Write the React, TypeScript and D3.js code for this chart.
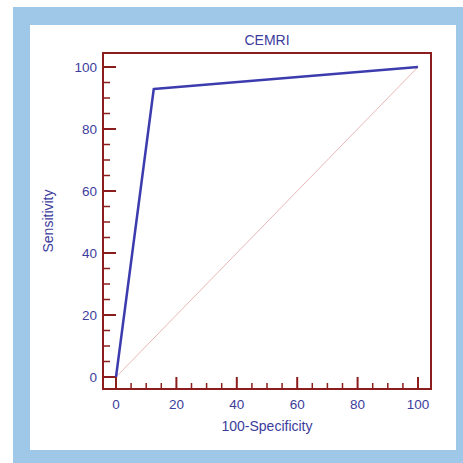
import React, { useEffect, useRef } from 'react';
import * as d3 from 'd3';

// ROC curve points (100-Specificity, Sensitivity)
const fpr = [0, 12.5, 100];
const tpr = [0, 92.9, 100];
const diagonal = [0, 100];
const xTicks = [0, 20, 40, 60, 80, 100];
const yTicks = [0, 20, 40, 60, 80, 100];
const minorTicks = d3.range(0, 101, 5);

const App = () => {
  const ref = useRef<SVGSVGElement | null>(null);

  useEffect(() => {
    const width = 463;
    const height = 463;
    const frame = { left: 103, right: 431, top: 53, bottom: 389 };
    const frameColor = '#8c1d1d';
    const textColor = '#3d3d9c';
    const font = '"Liberation Sans", Arial, sans-serif';

    const svg = d3.select(ref.current);
    svg.selectAll('*').remove();
    svg.attr('width', width).attr('height', height);

    // background panels
    svg.append('rect').attr('x', 0).attr('y', 0).attr('width', width).attr('height', height).attr('fill', '#fff');
    svg.append('rect').attr('x', 13).attr('y', 7).attr('width', width - 13).attr('height', height - 7).attr('fill', '#9fc7e8');
    svg.append('rect').attr('x', 30).attr('y', 25).attr('width', 426).attr('height', 425).attr('fill', '#fff');

    const xScale = d3.scaleLinear().domain([0, 100]).range([116, 418]);
    const yScale = d3.scaleLinear().domain([0, 100]).range([377, 67]);

    // diagonal reference line
    svg.append('line')
      .attr('x1', xScale(diagonal[0])).attr('y1', yScale(diagonal[0]))
      .attr('x2', xScale(diagonal[1])).attr('y2', yScale(diagonal[1]))
      .attr('stroke', '#e9b8b8')
      .attr('stroke-width', 1);

    // ticks along the left side (pointing in)
    svg.selectAll('.ytick')
      .data(minorTicks)
      .enter().append('line')
      .attr('x1', frame.left)
      .attr('x2', d => frame.left + (d % 20 === 0 ? 13 : 7))
      .attr('y1', d => yScale(d))
      .attr('y2', d => yScale(d))
      .attr('stroke', frameColor)
      .attr('stroke-width', d => (d % 20 === 0 ? 2 : 1.5));

    // ticks along the bottom (pointing in)
    svg.selectAll('.xtick')
      .data(minorTicks)
      .enter().append('line')
      .attr('x1', d => xScale(d))
      .attr('x2', d => xScale(d))
      .attr('y1', frame.bottom)
      .attr('y2', d => frame.bottom - (d % 20 === 0 ? 12 : 6))
      .attr('stroke', frameColor)
      .attr('stroke-width', d => (d % 20 === 0 ? 2 : 1.5));

    // frame
    svg.append('rect')
      .attr('x', frame.left)
      .attr('y', frame.top)
      .attr('width', frame.right - frame.left)
      .attr('height', frame.bottom - frame.top)
      .attr('fill', 'none')
      .attr('stroke', frameColor)
      .attr('stroke-width', 2);

    // ROC line
    const line = d3.line<number>()
      .x((d, i) => xScale(fpr[i]))
      .y(d => yScale(d));

    svg.append('path')
      .datum(tpr)
      .attr('d', line)
      .attr('fill', 'none')
      .attr('stroke', '#3c3cae')
      .attr('stroke-width', 2.5)
      .attr('stroke-linejoin', 'round');

    // tick labels
    svg.selectAll('.xlabel')
      .data(xTicks)
      .enter().append('text')
      .attr('x', d => xScale(d))
      .attr('y', 409)
      .attr('text-anchor', 'middle')
      .style('font-family', font)
      .style('font-size', '13.5px')
      .style('fill', textColor)
      .text(d => d);

    svg.selectAll('.ylabel')
      .data(yTicks)
      .enter().append('text')
      .attr('x', 97)
      .attr('y', d => yScale(d) + 5)
      .attr('text-anchor', 'end')
      .style('font-family', font)
      .style('font-size', '13.5px')
      .style('fill', textColor)
      .text(d => d);

    // titles
    svg.append('text')
      .attr('x', (frame.left + frame.right) / 2)
      .attr('y', 45)
      .attr('text-anchor', 'middle')
      .style('font-family', font)
      .style('font-size', '14px')
      .style('fill', textColor)
      .text('CEMRI');

    svg.append('text')
      .attr('x', (frame.left + frame.right) / 2)
      .attr('y', 431)
      .attr('text-anchor', 'middle')
      .style('font-family', font)
      .style('font-size', '14px')
      .style('fill', textColor)
      .text('100-Specificity');

    svg.append('text')
      .attr('transform', `translate(53, ${(frame.top + frame.bottom) / 2}) rotate(-90)`)
      .attr('text-anchor', 'middle')
      .style('font-family', font)
      .style('font-size', '14px')
      .style('fill', textColor)
      .text('Sensitivity');
  }, []);

  return (
    <svg ref={ref} style={{ position: 'absolute', left: 0, top: 0, display: 'block' }}></svg>
  );
};

export default App;
